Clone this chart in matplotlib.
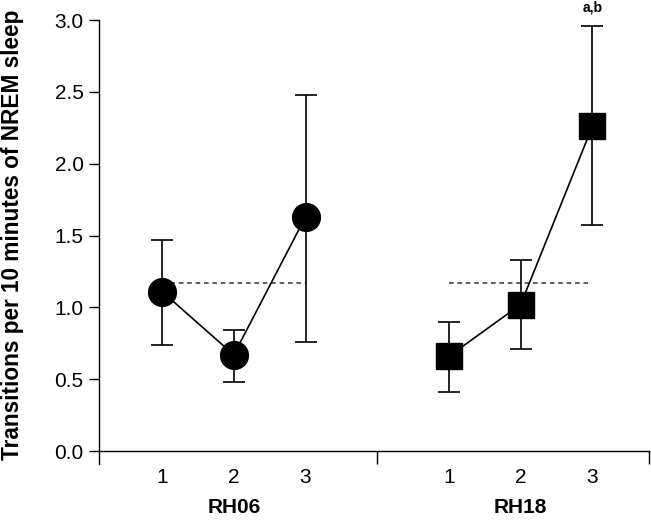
import matplotlib.pyplot as plt
import numpy as np

plt.rcParams['font.family'] = ['Liberation Sans', 'DejaVu Sans']

# data
groups = ['RH06', 'RH18']
conds = ['1', '2', '3']
rh06_mean = [1.11, 0.67, 1.63]
rh06_hi = [1.47, 0.84, 2.48]
rh06_lo = [0.74, 0.48, 0.76]
rh18_mean = [0.66, 1.02, 2.26]
rh18_hi = [0.90, 1.33, 2.96]
rh18_lo = [0.41, 0.71, 1.57]
baseline = 1.17
sig_label = 'a,b'

x06 = np.array([1, 2, 3])
x18 = np.array([5, 6, 7])

fig = plt.figure(figsize=(6.51, 5.20), dpi=100)
ax = fig.add_axes([0.152, 0.1077, 0.845, 0.8538])

def draw(x, m, hi, lo, mk, ms):
    m = np.array(m)
    err = [m - np.array(lo), np.array(hi) - m]
    ax.errorbar(x, m, yerr=err, fmt='none', ecolor='black', elinewidth=1.2,
                capsize=8, capthick=1.2, zorder=2)
    ax.plot(x, m, color='black', lw=1.2, zorder=3)
    ax.plot(x, m, ls='none', marker=mk, ms=ms, color='black', zorder=4)
    ax.plot([x[0], x[-1]], [baseline, baseline], ls=(0, (3, 2.5)),
            color='#333333', lw=1.1, zorder=1)

draw(x06, rh06_mean, rh06_hi, rh06_lo, 'o', 20)
draw(x18, rh18_mean, rh18_hi, rh18_lo, 's', 18.5)

ax.text(x18[2], 3.085, sig_label, ha='center', va='center', fontsize=10,
        fontweight='bold', clip_on=False)

ax.set_xlim(0.12, 7.79)
ax.set_ylim(-0.09, 3.0)
ax.spines['top'].set_visible(False)
ax.spines['right'].set_visible(False)
ax.spines['bottom'].set_position(('data', 0))
ax.spines['left'].set_linewidth(1.0)
ax.spines['bottom'].set_linewidth(1.0)

ax.set_yticks(np.arange(0, 3.01, 0.5))
ax.set_yticklabels(['%.1f' % v for v in np.arange(0, 3.01, 0.5)], fontsize=15)
ax.tick_params(axis='y', length=7, width=1.0, pad=4, colors='black')

ax.set_xticks(list(x06) + list(x18))
ax.set_xticklabels(conds + conds, fontsize=15)
ax.set_xticks([4, 7.79], minor=True)
ax.tick_params(axis='x', which='major', length=0, pad=12)
ax.tick_params(axis='x', which='minor', length=9, width=1.0)

ax.set_ylabel('Transitions per 10 minutes of NREM sleep', fontsize=16.3,
              fontweight='bold')
ax.yaxis.set_label_coords(-0.136, 0.516)

for xc, g in zip([2, 6], groups):
    ax.text(xc, -0.39, g, ha='center', va='center', fontsize=15,
            fontweight='bold')

fig.savefig('out.png', dpi=100)
